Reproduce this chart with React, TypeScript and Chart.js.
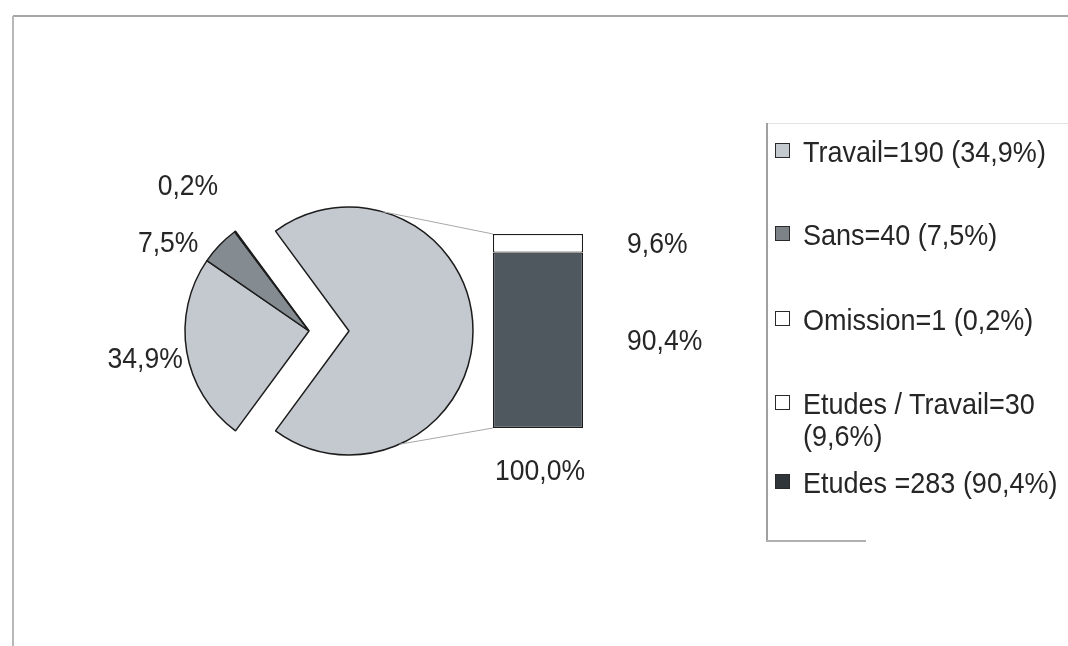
import React, { useEffect, useRef } from "react";
import { Chart, registerables } from "chart.js";

Chart.register(...registerables);

// ---- data ----
// Pie of bar: slice sizes as drawn (the Etudes group slice covers ~253 degrees)
const pieLabels = ["Etudes (total)", "Travail", "Sans", "Omission"];
const pieValues = [544, 190, 40, 1];
const pieValueLabels = ["", "34,9%", "7,5%", "0,2%"];

// Secondary bar (stacked, 100%)
const barCategories = ["100,0%"];
const etudesValues = [90.4];
const etudesTravailValues = [9.6];
const etudesLabel = "90,4%";
const etudesTravailLabel = "9,6%";

const legendLines: string[][] = [
  ["Travail=190 (34,9%)"],
  ["Sans=40 (7,5%)"],
  ["Omission=1 (0,2%)"],
  ["Etudes / Travail=30", "(9,6%)"],
  ["Etudes =283 (90,4%)"],
];

// ---- styles ----
const W = 1068;
const H = 646;
const FONT = '"Liberation Sans", Arial, Helvetica, sans-serif';
const TEXT = "#262626";
const LIGHT = "#c4c9d0";
const MID = "#858c91";
const DARK = "#50585f";
const EDGE = "#1c1c1c";
const pieColors = [LIGHT, LIGHT, MID, "#ffffff"];
const legendColors = [LIGHT, "#7c8287", "#ffffff", "#ffffff", "#30353a"];
const legendRowY = [152, 235, 320, 404, 483];
const PIE_CX = 309;
const PIE_CY = 331;
const PIE_R = 124;
const EXPLODE = 40;
// label nudges (style) relative to the mid-angle anchor of each slice
const pieLabelNudge = [
  [0, 0],
  [6, 7],
  [-14, 6],
  [-11, -36],
];

function drawStretched(
  ctx: CanvasRenderingContext2D,
  text: string,
  x: number,
  y: number,
  align: CanvasTextAlign,
  size: number,
  sx: number
) {
  ctx.save();
  ctx.font = `${size}px ${FONT}`;
  ctx.fillStyle = TEXT;
  ctx.textAlign = align;
  ctx.textBaseline = "middle";
  ctx.translate(x, y);
  ctx.scale(sx, 1);
  ctx.fillText(text, 0, 0);
  ctx.restore();
}

export default function App() {
  const pieRef = useRef<HTMLCanvasElement | null>(null);
  const barRef = useRef<HTMLCanvasElement | null>(null);

  useEffect(() => {
    if (!pieRef.current || !barRef.current) return;
    const total = pieValues.reduce((a, b) => a + b, 0);
    const rotation = 90 - (pieValues[0] / total) * 180;

    const explodePlugin = {
      id: "explodeOther",
      afterDatasetUpdate(chart: any, args: any) {
        const arc = chart.getDatasetMeta(args.index).data[0];
        if (arc) arc.x += EXPLODE;
      },
    };

    const pieLabelPlugin = {
      id: "pieLabels",
      afterDatasetsDraw(chart: any) {
        const ctx = chart.ctx;
        const arcs = chart.getDatasetMeta(0).data;
        arcs.forEach((arc: any, i: number) => {
          const txt = pieValueLabels[i];
          if (!txt) return;
          const mid = (arc.startAngle + arc.endAngle) / 2;
          const r = arc.outerRadius + 10;
          const x = arc.x + Math.cos(mid) * r + pieLabelNudge[i][0];
          const y = arc.y + Math.sin(mid) * r + pieLabelNudge[i][1];
          drawStretched(ctx, txt, x, y, Math.cos(mid) < 0 ? "right" : "left", 29, 0.915);
        });
      },
    };

    const pie = new Chart(pieRef.current, {
      type: "pie",
      data: {
        labels: pieLabels,
        datasets: [
          {
            data: pieValues,
            backgroundColor: pieColors,
            borderColor: EDGE,
            borderWidth: 1.5,
          },
        ],
      },
      options: {
        responsive: false,
        animation: false,
        events: [],
        rotation,
        radius: PIE_R,
        layout: {
          padding: {
            left: PIE_CX - 200,
            right: W - (PIE_CX + 200),
            top: PIE_CY - 200,
            bottom: H - (PIE_CY + 200),
          },
        },
        plugins: { legend: { display: false }, tooltip: { enabled: false } },
      } as any,
      plugins: [explodePlugin, pieLabelPlugin],
    });

    const connectorPlugin = {
      id: "connectors",
      beforeDatasetsDraw(chart: any) {
        const other = pie.getDatasetMeta(0).data[0] as any;
        const bar = chart.getDatasetMeta(0).data[0] as any;
        const barTop = chart.getDatasetMeta(1).data[0] as any;
        if (!other || !bar || !barTop) return;
        const left = bar.x - bar.width / 2;
        const ctx = chart.ctx;
        const a1 = (-74 * Math.PI) / 180;
        const a2 = (66 * Math.PI) / 180;
        ctx.save();
        ctx.strokeStyle = "#a8a8a8";
        ctx.lineWidth = 1;
        ctx.beginPath();
        ctx.moveTo(other.x + Math.cos(a1) * other.outerRadius, other.y + Math.sin(a1) * other.outerRadius);
        ctx.lineTo(left, barTop.y);
        ctx.moveTo(other.x + Math.cos(a2) * other.outerRadius, other.y + Math.sin(a2) * other.outerRadius);
        ctx.lineTo(left, bar.base);
        ctx.stroke();
        ctx.restore();
      },
    };

    const barLabelPlugin = {
      id: "barLabels",
      afterDatasetsDraw(chart: any) {
        const ctx = chart.ctx;
        const bottom = chart.getDatasetMeta(0).data[0] as any;
        const top = chart.getDatasetMeta(1).data[0] as any;
        if (!bottom || !top) return;
        const right = bottom.x + bottom.width / 2 + 44;
        drawStretched(ctx, etudesTravailLabel, right, (top.y + top.base) / 2 + 2, "left", 29, 0.915);
        drawStretched(ctx, etudesLabel, right, (bottom.y + bottom.base) / 2 + 2, "left", 29, 0.915);
        drawStretched(ctx, barCategories[0], bottom.x + 2, bottom.base + 44, "center", 29, 0.915);
      },
    };

    const bar = new Chart(barRef.current, {
      type: "bar",
      data: {
        labels: barCategories,
        datasets: [
          {
            label: "Etudes",
            data: etudesValues,
            backgroundColor: DARK,
            borderColor: EDGE,
            borderWidth: 1.2,
            borderSkipped: false,
            categoryPercentage: 1,
            barPercentage: 0.6,
          },
          {
            label: "Etudes / Travail",
            data: etudesTravailValues,
            backgroundColor: "#ffffff",
            borderColor: EDGE,
            borderWidth: 1.2,
            borderSkipped: false,
            categoryPercentage: 1,
            barPercentage: 0.6,
          },
        ],
      },
      options: {
        responsive: false,
        animation: false,
        events: [],
        layout: { padding: { left: 463, right: W - 613, top: 234, bottom: H - 428 } },
        scales: {
          x: { stacked: true, display: false },
          y: { stacked: true, display: false, min: 0, max: 100 },
        },
        plugins: { legend: { display: false }, tooltip: { enabled: false } },
      } as any,
      plugins: [connectorPlugin, barLabelPlugin],
    });

    return () => {
      bar.destroy();
      pie.destroy();
    };
  }, []);

  const canvasStyle: React.CSSProperties = {
    position: "absolute",
    left: 0,
    top: 0,
    width: W,
    height: H,
  };

  return (
    <div
      style={{
        position: "fixed",
        left: 0,
        top: 0,
        width: W,
        height: H,
        background: "#ffffff",
        overflow: "hidden",
        fontFamily: FONT,
      }}
    >
      {/* outer frame */}
      <div style={{ position: "absolute", left: 13, top: 15, width: W - 13, height: 2, background: "#a6a6a6" }} />
      <div style={{ position: "absolute", left: 12, top: 16, width: 2, height: H - 16, background: "#b8b8b8" }} />
      {/* legend box edges */}
      <div style={{ position: "absolute", left: 767, top: 123, width: W - 767, height: 1, background: "#e4e4e4" }} />
      <div style={{ position: "absolute", left: 766, top: 123, width: 1.5, height: 418, background: "#a0a0a0" }} />
      <div style={{ position: "absolute", left: 766, top: 540, width: 100, height: 1.5, background: "#b0b0b0" }} />

      <canvas ref={pieRef} width={W} height={H} style={canvasStyle} />
      <canvas ref={barRef} width={W} height={H} style={canvasStyle} />

      {legendLines.map((lines, i) => (
        <React.Fragment key={i}>
          <div
            style={{
              position: "absolute",
              left: 775,
              top: legendRowY[i] - 9,
              width: 13,
              height: 13,
              background: legendColors[i],
              border: "1.5px solid #2a2a2a",
            }}
          />
          {lines.map((t, j) => (
            <div
              key={j}
              style={{
                position: "absolute",
                left: 803,
                top: legendRowY[i] - 17 + j * 32,
                height: 34,
                lineHeight: "34px",
                fontSize: 30,
                color: TEXT,
                whiteSpace: "nowrap",
                transform: "scaleX(0.9)",
                transformOrigin: "left center",
              }}
            >
              {t}
            </div>
          ))}
        </React.Fragment>
      ))}
    </div>
  );
}
